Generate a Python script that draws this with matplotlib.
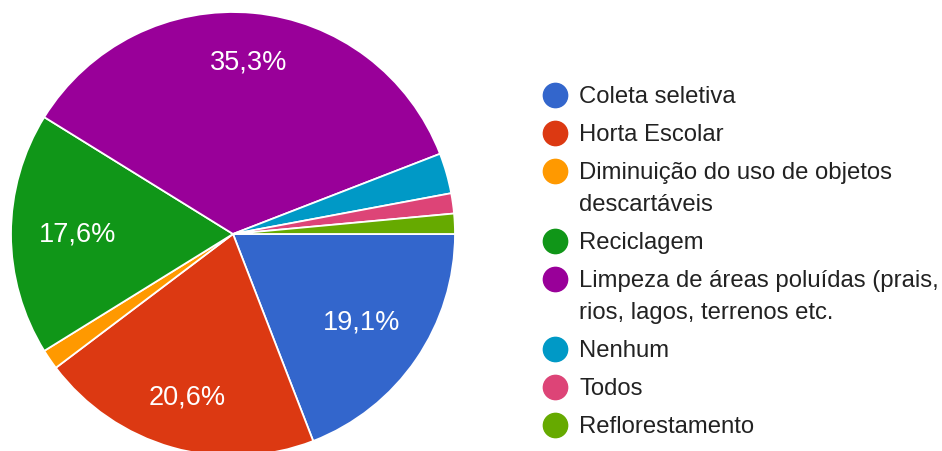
import matplotlib
matplotlib.use("Agg")
from matplotlib import pyplot as plt
import numpy as np

W, H = 942, 452
DPI = 100

categories = [
    "Coleta seletiva",
    "Horta Escolar",
    "Diminuição do uso de objetos\ndescartáveis",
    "Reciclagem",
    "Limpeza de áreas poluídas (prais,\nrios, lagos, terrenos etc.",
    "Nenhum",
    "Todos",
    "Reflorestamento",
]
counts = [13, 14, 1, 12, 24, 2, 1, 1]
colors = ["#3366cc", "#dc3912", "#ff9900", "#109618",
          "#990099", "#0099c6", "#dd4477", "#66aa00"]
# radial position of each percentage label (fraction of radius)
label_r = [0.70, 0.76, 0.7, 0.70, 0.78, 0.7, 0.7, 0.7]

plt.rcParams['font.family'] = ['Liberation Sans', 'DejaVu Sans']

fig = plt.figure(figsize=(W / DPI, H / DPI), dpi=DPI)

# pie centre (233, 235) px from top-left, radius 222 px
cx, cy, r = 233, 235, 222
ax = fig.add_axes([(cx - r) / W, (H - cy - r) / H, 2 * r / W, 2 * r / H])

def fmt(p):
    return ("%.1f%%" % p).replace(".", ",") if p >= 5 else ""

wedges, texts, autotexts = ax.pie(
    counts, colors=colors, startangle=0, counterclock=False,
    autopct=fmt, pctdistance=0.74, radius=1.0,
    wedgeprops=dict(edgecolor="white", linewidth=1.3),
    textprops=dict(color="white", fontsize=19.5))
for w, t, d in zip(wedges, autotexts, label_r):
    a = np.deg2rad((w.theta1 + w.theta2) / 2)
    t.set_position((d * np.cos(a), d * np.sin(a)))
ax.set_xlim(-1, 1)
ax.set_ylim(-1, 1)
ax.set_aspect("equal")
ax.axis("off")

# legend, drawn by hand to get the Google-forms look
y = 96
for lab, col in zip(categories, colors):
    lines = lab.split("\n")
    fig.lines.append(plt.Line2D([555 / W], [1 - y / H], marker="o",
                                markersize=17.5, color=col,
                                transform=fig.transFigure))
    for i, ln in enumerate(lines):
        fig.text(579 / W, 1 - (y + 1 + 32 * i) / H, ln, fontsize=17.2,
                 color="#222222", va="center", ha="left")
    y += 38 + 32 * (len(lines) - 1)

fig.savefig("out.png", dpi=DPI)
